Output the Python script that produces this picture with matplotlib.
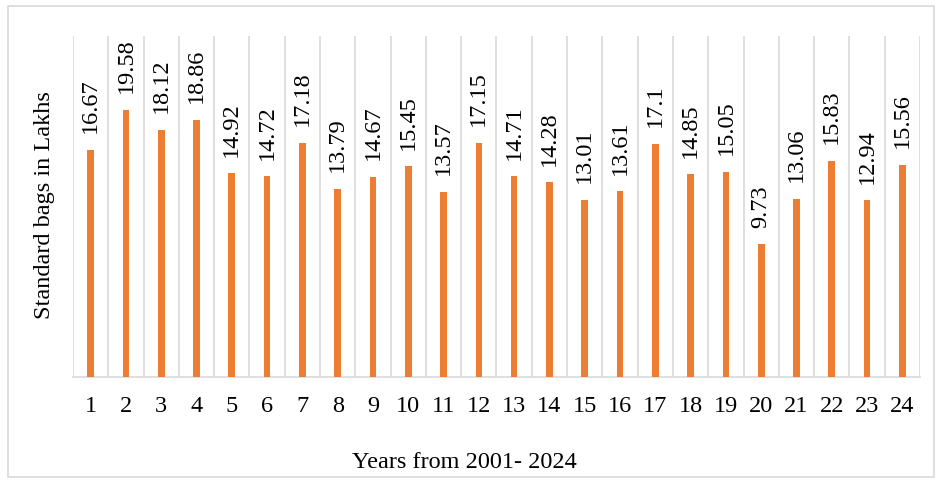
import numpy as np
import matplotlib.pyplot as plt
from matplotlib.patches import Rectangle

# Standard bags (lakhs) per year, 2001-2024
years = list(range(1, 25))
bags = [16.67, 19.58, 18.12, 18.86, 14.92, 14.72, 17.18, 13.79, 14.67, 15.45,
        13.57, 17.15, 14.71, 14.28, 13.01, 13.61, 17.1, 14.85, 15.05, 9.73,
        13.06, 15.83, 12.94, 15.56]
value_labels = ['16.67', '19.58', '18.12', '18.86', '14.92', '14.72', '17.18',
                '13.79', '14.67', '15.45', '13.57', '17.15', '14.71', '14.28',
                '13.01', '13.61', '17.1', '14.85', '15.05', '9.73', '13.06',
                '15.83', '12.94', '15.56']

plt.rcParams['font.family'] = ['Liberation Serif', 'DejaVu Serif']
FS = 17.5

fig = plt.figure(figsize=(9.39, 4.83), dpi=100)
ax = fig.add_axes([73 / 939, 1 - 377 / 483, (920 - 73) / 939, (377 - 36) / 483])

x = np.arange(len(years))
ax.bar(x, bags, width=0.19, color='#ED7D31', zorder=3)

for xi, v, lab in zip(x, bags, value_labels):
    ax.annotate(lab, (xi, v), xytext=(0, 12), textcoords='offset points',
                rotation=90, ha='center', va='bottom', fontsize=FS)

# vertical gridlines at category boundaries
for b in np.arange(-0.5, len(years), 1.0):
    ax.axvline(b, color='#D9D9D9', linewidth=1.2, zorder=1)

ax.set_xlim(-0.5, len(years) - 0.5)
ax.set_ylim(0, 25)
ax.set_xticks(x)
ax.set_xticklabels([str(y) for y in years], fontsize=FS)
ax.tick_params(axis='x', length=0, pad=14)
ax.set_yticks([])
for s in ['top', 'left', 'right']:
    ax.spines[s].set_visible(False)
ax.spines['bottom'].set_color('#D9D9D9')
ax.spines['bottom'].set_linewidth(1.2)

ax.set_ylabel('Standard bags in Lakhs', fontsize=FS, va='center')
ax.yaxis.set_label_coords((45 - 73) / 847, (377 - 205) / 341)
ax.set_xlabel('Years from 2001- 2024', fontsize=FS, va='center')
ax.xaxis.set_label_coords((464 - 73) / 847, (377 - 462) / 341)

# outer chart border
fig.patches.append(Rectangle((8 / 939, 6 / 483), 926 / 939, 471 / 483,
                             transform=fig.transFigure, fill=False,
                             edgecolor='#D9D9D9', linewidth=1.2))

plt.savefig('out.png', dpi=100)
